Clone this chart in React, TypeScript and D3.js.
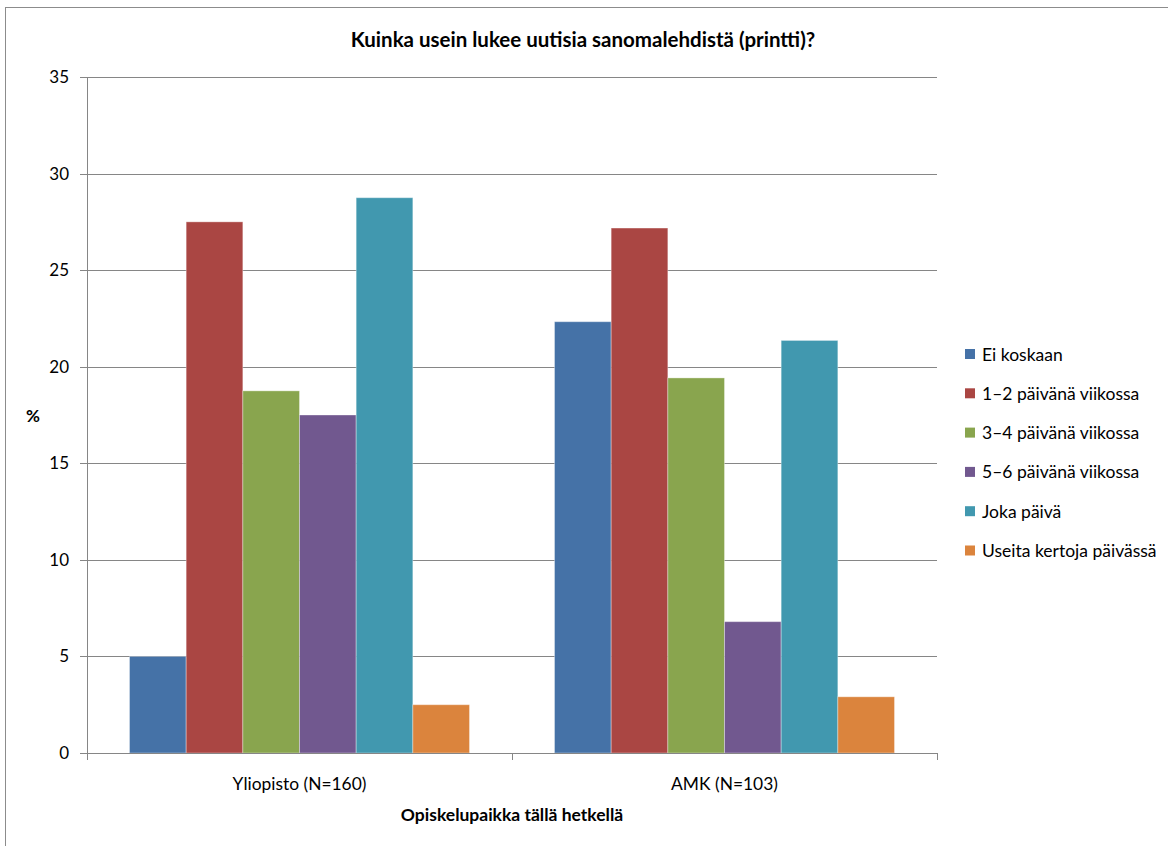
import React from "react";
import * as d3 from "d3";

const categories = ["Yliopisto (N=160)", "AMK (N=103)"];
const seriesNames = [
  "Ei koskaan",
  "1–2 päivänä viikossa",
  "3–4 päivänä viikossa",
  "5–6 päivänä viikossa",
  "Joka päivä",
  "Useita kertoja päivässä",
];
const yliopistoValues = [5.0, 27.5, 18.75, 17.5, 28.75, 2.5];
const amkValues = [22.33, 27.18, 19.42, 6.8, 21.36, 2.91];
const seriesColors = ["#4572A7", "#AA4643", "#89A54E", "#71588F", "#4198AF", "#DB843D"];
const yTicks = [0, 5, 10, 15, 20, 25, 30, 35];

const title = "Kuinka usein lukee uutisia sanomalehdistä (printti)?";
const xTitle = "Opiskelupaikka tällä hetkellä";
const yTitle = "%";

const W = 1168;
const H = 846;
const M = { left: 87, right: 937, top: 77, bottom: 753 };
const FONT = "Lato, 'Open Sans', sans-serif";

export default function App() {
  const values = [yliopistoValues, amkValues];
  const x0 = d3.scaleBand<string>().domain(categories).range([M.left, M.right]).paddingInner(0).paddingOuter(0);
  const groupPad = x0.bandwidth() * 0.1;
  const x1 = d3
    .scaleBand<string>()
    .domain(seriesNames)
    .range([groupPad, x0.bandwidth() - groupPad])
    .padding(0);
  const y = d3.scaleLinear().domain([0, 35]).range([M.bottom, M.top]);

  return (
    <svg
      width={W}
      height={H}
      style={{ position: "absolute", left: 0, top: 0, background: "#fff" }}
      fontFamily={FONT}
    >
      <rect x={5.5} y={7.5} width={1300} height={1000} fill="#fff" stroke="#8c8c8c" strokeWidth={1} />
      <text x={583} y={47} textAnchor="middle" fontWeight="bold" fontSize={20.5} fill="#000">
        {title}
      </text>
      {/* gridlines */}
      {yTicks.map((t) => (
        <g key={t}>
          {t > 0 && (
            <line x1={M.left} x2={M.right} y1={Math.round(y(t)) + 0.5} y2={Math.round(y(t)) + 0.5} stroke="#868686" strokeWidth={1} />
          )}
          <line x1={M.left - 7} x2={M.left} y1={Math.round(y(t)) + 0.5} y2={Math.round(y(t)) + 0.5} stroke="#868686" strokeWidth={1} />
          <text x={69} y={y(t) + 6} textAnchor="end" fontSize={17} fill="#000">
            {t}
          </text>
        </g>
      ))}
      {/* bars */}
      {categories.map((c, ci) => (
        <g key={c} transform={`translate(${x0(c)},0)`}>
          {seriesNames.map((s, si) => (
            <rect
              key={s}
              x={x1(s)}
              y={y(values[ci][si])}
              width={x1.bandwidth()}
              height={M.bottom - y(values[ci][si])}
              fill={seriesColors[si]}
              stroke="rgba(255,255,255,0.35)"
              strokeWidth={1}
            />
          ))}
        </g>
      ))}
      {/* axes */}
      <line x1={M.left + 0.5} x2={M.left + 0.5} y1={M.top} y2={M.bottom} stroke="#868686" />
      <line x1={M.left} x2={M.right} y1={M.bottom + 0.5} y2={M.bottom + 0.5} stroke="#868686" />
      {[M.left, M.left + x0.bandwidth(), M.right].map((xv, i) => (
        <line key={i} x1={Math.round(xv) + 0.5} x2={Math.round(xv) + 0.5} y1={M.bottom} y2={M.bottom + 7} stroke="#868686" />
      ))}
      {categories.map((c) => (
        <text key={c} x={(x0(c) as number) + x0.bandwidth() / 2} y={790} textAnchor="middle" fontSize={17.4} fill="#000">
          {c}
        </text>
      ))}
      <text x={(M.left + M.right) / 2} y={821} textAnchor="middle" fontWeight="bold" fontSize={17.5} fill="#000">
        {xTitle}
      </text>
      <text x={33} y={422} textAnchor="middle" fontWeight="bold" fontSize={17} fill="#000">
        {yTitle}
      </text>
      {/* legend */}
      {seriesNames.map((s, i) => (
        <g key={s} transform={`translate(965,${354 + i * 39.3})`}>
          <rect x={0} y={-5} width={10} height={10} fill={seriesColors[i]} />
          <text x={17} y={6.5} fontSize={17.5} fill="#000">
            {s}
          </text>
        </g>
      ))}
    </svg>
  );
}
